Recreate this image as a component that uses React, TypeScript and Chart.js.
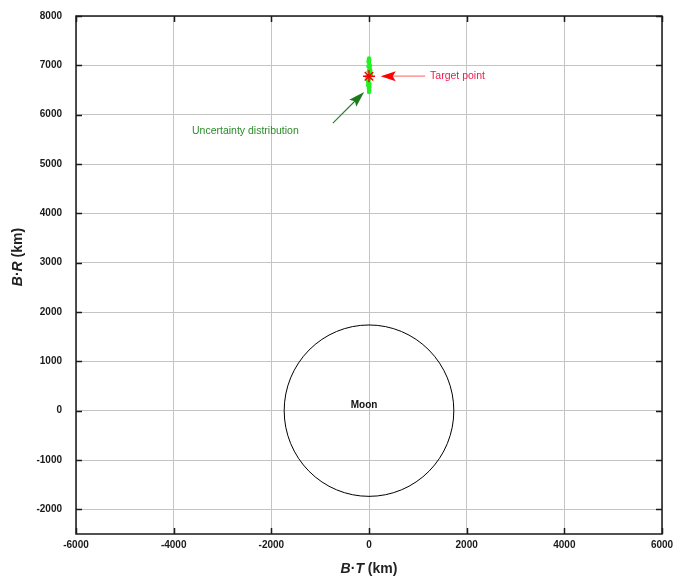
import React, { useEffect, useRef } from "react";
import { Chart, registerables } from "chart.js";

Chart.register(...registerables);

// axis ranges and ticks
const xRange = [-6000, 6000];
const yRange = [-2500, 8000];
const xTickVals = [-6000, -4000, -2000, 0, 2000, 4000, 6000];
const yTickVals = [-2000, -1000, 0, 1000, 2000, 3000, 4000, 5000, 6000, 7000, 8000];

// Moon (centre at origin, radius km)
const moonCenter = [0, 0];
const moonRadius = 1737;
const moonLabel = "Moon";
const moonLabelPos = [-100, 100];

// target point
const targetX = [0];
const targetY = [6780];

// uncertainty distribution samples
const uncX = [0, 15, -15, 25, -25, 8, -8, 20, -20, 0, 10, -10, 0, 30, -30, 0, 5, -5, 0, 3, -3, 0, 18, -18, 0, 10, -10, 35, -35];
const uncY = [6800, 6850, 6750, 6900, 6700, 6950, 6650, 7000, 6600, 7050, 6560, 7080, 6520, 6820, 6780, 7120, 6490, 6880, 6720, 7100, 6540, 6460, 6920, 6680, 7140, 6620, 6980, 6800, 6760];

// annotations: [tailX, tailY, headX, headY]
const targetArrow = [1150, 6780, 240, 6780];
const targetText = "Target point";
const targetTextPos = [1250, 6780];
const uncArrow = [-740, 5830, -100, 6460];
const uncText = "Uncertainty distribution";
const uncTextPos = [-3625, 5670];

const FONT = "'Liberation Sans', Arial, sans-serif";

function drawArrow(ctx: CanvasRenderingContext2D, x1: number, y1: number, x2: number, y2: number,
  lineColor: string, headColor: string, headLen: number, headHalf: number) {
  const ang = Math.atan2(y2 - y1, x2 - x1);
  const bx = x2 - headLen * Math.cos(ang);
  const by = y2 - headLen * Math.sin(ang);
  ctx.save();
  ctx.strokeStyle = lineColor;
  ctx.lineWidth = 1.2;
  ctx.beginPath();
  ctx.moveTo(x1, y1);
  ctx.lineTo(bx + 3 * Math.cos(ang), by + 3 * Math.sin(ang));
  ctx.stroke();
  ctx.fillStyle = headColor;
  ctx.beginPath();
  ctx.moveTo(x2, y2);
  ctx.lineTo(bx - headHalf * Math.sin(ang) - 3 * Math.cos(ang), by + headHalf * Math.cos(ang) - 3 * Math.sin(ang));
  ctx.lineTo(bx, by);
  ctx.lineTo(bx + headHalf * Math.sin(ang) - 3 * Math.cos(ang), by - headHalf * Math.cos(ang) - 3 * Math.sin(ang));
  ctx.closePath();
  ctx.fill();
  ctx.restore();
}

function drawMixed(ctx: CanvasRenderingContext2D, parts: [string, boolean][], size: number) {
  const widths = parts.map(([t, it]) => {
    ctx.font = `${it ? "italic " : ""}bold ${size}px ${FONT}`;
    return ctx.measureText(t).width;
  });
  const total = widths.reduce((a, b) => a + b, 0);
  let x = -total / 2;
  ctx.textBaseline = "middle";
  ctx.textAlign = "left";
  parts.forEach(([t, it], i) => {
    ctx.font = `${it ? "italic " : ""}bold ${size}px ${FONT}`;
    ctx.fillText(t, x, 0);
    x += widths[i];
  });
}

const overlayPlugin = {
  id: "overlay",
  beforeDatasetsDraw(chart: any) {
    const { ctx, scales } = chart;
    const xs = scales.x, ys = scales.y;
    const cx = xs.getPixelForValue(moonCenter[0]);
    const cy = ys.getPixelForValue(moonCenter[1]);
    const rx = Math.abs(xs.getPixelForValue(moonCenter[0] + moonRadius) - cx);
    const ry = Math.abs(ys.getPixelForValue(moonCenter[1] + moonRadius) - cy);
    ctx.save();
    ctx.strokeStyle = "#000";
    ctx.lineWidth = 1;
    ctx.beginPath();
    ctx.ellipse(cx, cy, rx, ry, 0, 0, Math.PI * 2);
    ctx.stroke();
    ctx.fillStyle = "#111";
    ctx.font = `bold 10px ${FONT}`;
    ctx.textAlign = "center";
    ctx.textBaseline = "middle";
    ctx.fillText(moonLabel, xs.getPixelForValue(moonLabelPos[0]), ys.getPixelForValue(moonLabelPos[1]));
    ctx.restore();
  },
  afterDraw(chart: any) {
    const { ctx, scales, chartArea } = chart;
    const xs = scales.x, ys = scales.y;
    const { left, right, top, bottom } = chartArea;
    ctx.save();
    ctx.strokeStyle = "#1a1a1a";
    ctx.lineWidth = 1.5;
    ctx.strokeRect(left, top, right - left, bottom - top);
    ctx.beginPath();
    yTickVals.forEach((v) => {
      const p = Math.round(ys.getPixelForValue(v)) + 0.5;
      ctx.moveTo(left, p); ctx.lineTo(left + 6, p);
      ctx.moveTo(right, p); ctx.lineTo(right - 6, p);
    });
    xTickVals.forEach((v) => {
      const p = Math.round(xs.getPixelForValue(v)) + 0.5;
      ctx.moveTo(p, bottom); ctx.lineTo(p, bottom - 6);
      ctx.moveTo(p, top); ctx.lineTo(p, top + 6);
    });
    ctx.stroke();

    drawArrow(ctx, xs.getPixelForValue(targetArrow[0]), ys.getPixelForValue(targetArrow[1]),
      xs.getPixelForValue(targetArrow[2]), ys.getPixelForValue(targetArrow[3]), "#ff8080", "#ff0000", 12, 5);
    drawArrow(ctx, xs.getPixelForValue(uncArrow[0]), ys.getPixelForValue(uncArrow[1]),
      xs.getPixelForValue(uncArrow[2]), ys.getPixelForValue(uncArrow[3]), "#2e7d32", "#1b7a1b", 13, 5);
    ctx.font = `10.5px ${FONT}`;
    ctx.textAlign = "left";
    ctx.textBaseline = "middle";
    ctx.fillStyle = "#f0194a";
    ctx.fillText(targetText, xs.getPixelForValue(targetTextPos[0]), ys.getPixelForValue(targetTextPos[1]));
    ctx.fillStyle = "#2a8a2a";
    ctx.fillText(uncText, xs.getPixelForValue(uncTextPos[0]), ys.getPixelForValue(uncTextPos[1]));

    ctx.fillStyle = "#222";
    ctx.save();
    ctx.translate((left + right) / 2, 569);
    drawMixed(ctx, [["B", true], ["\u00B7", false], ["T", true], [" (km)", false]], 14);
    ctx.restore();
    ctx.save();
    ctx.translate(18, 257);
    ctx.rotate(-Math.PI / 2);
    drawMixed(ctx, [["B", true], ["\u00B7", false], ["R", true], [" (km)", false]], 14);
    ctx.restore();
    ctx.restore();
  },
};

export default function App() {
  const ref = useRef<HTMLCanvasElement | null>(null);
  useEffect(() => {
    if (!ref.current) return;
    const chart = new Chart(ref.current, {
      type: "scatter",
      data: {
        datasets: [
          {
            label: "Target point",
            data: targetX.map((x, i) => ({ x, y: targetY[i] })),
            pointStyle: "star",
            radius: 6,
            borderColor: "#ff0000",
            backgroundColor: "#ff0000",
            borderWidth: 1.5,
          },
          {
            label: "Uncertainty distribution",
            data: uncX.map((x, i) => ({ x, y: uncY[i] })),
            pointStyle: "circle",
            radius: 2.2,
            borderWidth: 0,
            backgroundColor: "#22f022",
            borderColor: "#22f022",
          },
        ],
      },
      options: {
        animation: false,
        responsive: false,
        devicePixelRatio: 1,
        layout: { padding: { left: 0, top: 16, right: 15, bottom: 0 } },
        plugins: { legend: { display: false }, tooltip: { enabled: false } },
        scales: {
          x: {
            type: "linear",
            min: xRange[0],
            max: xRange[1],
            afterBuildTicks: (s: any) => { s.ticks = xTickVals.map((v) => ({ value: v })); },
            afterFit: (s: any) => { s.height = 50; s.paddingLeft = 0; s.paddingRight = 0; },
            grid: { color: "#c4c4c4", lineWidth: 1, drawTicks: false },
            border: { display: false },
            ticks: {
              padding: 5,
              color: "#1a1a1a",
              font: { family: FONT, size: 10, weight: "bold" },
              callback: (v: any) => String(v),
              maxRotation: 0,
            },
          },
          y: {
            type: "linear",
            min: yRange[0],
            max: yRange[1],
            afterBuildTicks: (s: any) => { s.ticks = yTickVals.map((v) => ({ value: v })); },
            afterFit: (s: any) => { s.width = 76; s.paddingTop = 0; s.paddingBottom = 0; },
            grid: { color: "#c4c4c4", lineWidth: 1, drawTicks: false },
            border: { display: false },
            ticks: {
              padding: 14,
              color: "#1a1a1a",
              font: { family: FONT, size: 10, weight: "bold" },
              callback: (v: any) => String(v),
            },
          },
        },
      },
      plugins: [overlayPlugin],
    } as any);
    return () => chart.destroy();
  }, []);
  return (
    <div style={{ position: "fixed", left: 0, top: 0, width: 677, height: 584, background: "#fff" }}>
      <canvas ref={ref} width={677} height={584} style={{ display: "block" }} />
    </div>
  );
}
